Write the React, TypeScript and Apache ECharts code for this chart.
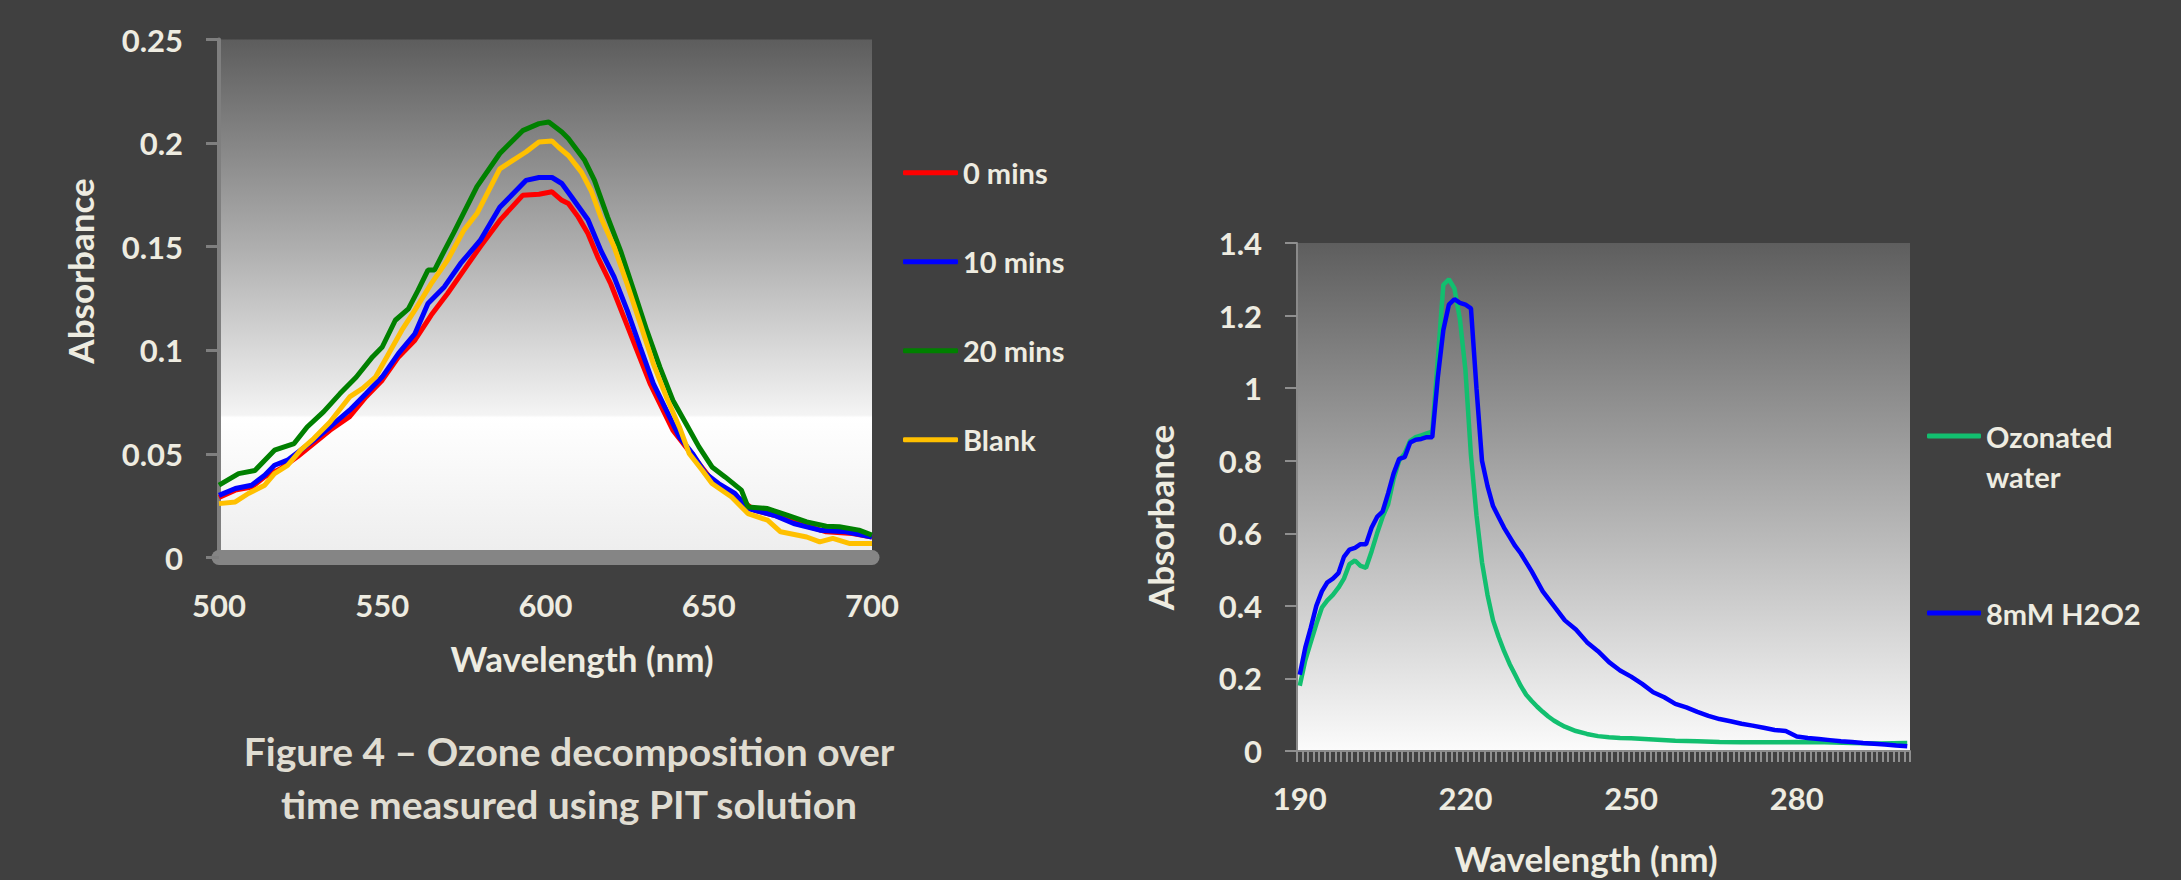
import React, { useEffect, useRef } from "react";
import * as echarts from "echarts";

// ---------- Figure 4 (left): PIT absorbance vs wavelength ----------
const leftNames = ["0 mins", "10 mins", "20 mins", "Blank"];
const leftColors = ["#ff0000", "#0000ff", "#008000", "#ffc000"];
const leftXTicks = { min: 500, max: 700, interval: 50 };
const leftYTicks = { min: 0, max: 0.25, interval: 0.05 };

const mins0: [number, number][] = [
  [500, 0.029], [505, 0.0325], [510, 0.034], [514, 0.039], [519, 0.043], [524, 0.0486],
  [529, 0.055], [534, 0.0614], [540, 0.068], [545, 0.0775], [550, 0.0856], [555, 0.0968],
  [560, 0.1049], [565, 0.117], [570, 0.1274], [575, 0.1387], [580, 0.15], [586, 0.1627],
  [593, 0.1748], [598, 0.1753], [602, 0.1765], [605, 0.1724], [607, 0.1708], [610, 0.1644],
  [613, 0.1564], [616, 0.145], [620, 0.132], [624, 0.116], [628, 0.1], [632, 0.084],
  [636, 0.0711], [639, 0.0614], [643, 0.0534], [647, 0.0454], [651, 0.0373], [655, 0.0325],
  [660, 0.0277], [664, 0.0228], [670, 0.0204], [678, 0.0164], [686, 0.0124], [694, 0.0116],
  [700, 0.0099],
];
const mins10: [number, number][] = [
  [500, 0.03], [505, 0.0333], [510, 0.0349], [514, 0.0397], [517, 0.0445], [521, 0.047],
  [525, 0.0518], [529, 0.0566], [534, 0.063], [540, 0.0711], [545, 0.079], [550, 0.0872],
  [555, 0.0985], [560, 0.108], [564, 0.1226], [569, 0.1306], [574, 0.1419], [580, 0.153],
  [586, 0.169], [594, 0.182], [598, 0.1834], [602, 0.1834], [605, 0.1805], [608, 0.174],
  [613, 0.163], [617, 0.148], [621, 0.1354], [625, 0.1194], [629, 0.1016], [633, 0.084],
  [637, 0.0711], [641, 0.0582], [645, 0.0502], [649, 0.0405], [653, 0.0357], [658, 0.0309],
  [662, 0.0236], [670, 0.0204], [676, 0.0164], [684, 0.0132], [692, 0.0124], [700, 0.0099],
];
const mins20: [number, number][] = [
  [500, 0.0349], [506, 0.0405], [511, 0.042], [517, 0.0518], [523, 0.055], [527, 0.063],
  [532, 0.0703], [537, 0.079], [542, 0.087], [547, 0.0968], [550, 0.1016], [554, 0.1145],
  [558, 0.12], [561, 0.129], [564, 0.1387], [566, 0.1387], [569, 0.148], [572, 0.157],
  [579, 0.179], [586, 0.195], [593, 0.206], [598, 0.2094], [601, 0.2102], [605, 0.2054],
  [607, 0.2022], [612, 0.1917], [615, 0.182], [619, 0.1644], [623, 0.148], [627, 0.129],
  [631, 0.1097], [635, 0.092], [639, 0.0759], [643, 0.0647], [647, 0.0534], [651, 0.0437],
  [655, 0.0389], [660, 0.0325], [662, 0.0244], [668, 0.0236], [674, 0.0204], [680, 0.0172],
  [686, 0.0151], [690, 0.0148], [696, 0.0132], [700, 0.0108],
];
const blank: [number, number][] = [
  [500, 0.026], [505, 0.0268], [509, 0.0309], [514, 0.0349], [517, 0.0405], [521, 0.0445],
  [525, 0.0518], [529, 0.0574], [534, 0.0654], [540, 0.0775], [544, 0.0816], [548, 0.0872],
  [552, 0.0985], [556, 0.1097], [560, 0.1194], [565, 0.1322], [570, 0.1435], [575, 0.158],
  [579, 0.166], [586, 0.1876], [594, 0.1957], [598, 0.2005], [602, 0.201], [604, 0.198],
  [607, 0.194], [611, 0.186], [614, 0.177], [617, 0.164], [621, 0.15], [625, 0.132],
  [629, 0.113], [633, 0.0936], [637, 0.0775], [641, 0.063], [644, 0.0502], [648, 0.0421],
  [651, 0.0357], [657, 0.0292], [662, 0.0212], [668, 0.018], [672, 0.0124], [680, 0.0099],
  [684, 0.0075], [688, 0.0092], [693, 0.0068], [700, 0.0068],
];
const leftData = [mins0, mins10, mins20, blank];

// ---------- Right chart: ozonated water vs H2O2 ----------
const rightNames = ["Ozonated water", "8mM H2O2"];
const rightColors = ["#12bf6f", "#0000ff"];
const rightStart = 190;
const rightEnd = 300;
const rightLabelEvery = 30;
const rightYTicks = { min: 0, max: 1.4, interval: 0.2 };

const ozonated: [number, number][] = [
  [190, 0.18], [191, 0.25], [192, 0.3], [193, 0.35], [194, 0.395], [195, 0.415], [196, 0.43],
  [197, 0.45], [198, 0.475], [199, 0.515], [200, 0.525], [201, 0.51], [202, 0.505], [203, 0.55],
  [204, 0.6], [205, 0.645], [206, 0.68], [207, 0.75], [208, 0.8], [209, 0.82], [210, 0.855],
  [211, 0.865], [212, 0.87], [213, 0.875], [214, 0.88], [215, 1.08], [216, 1.285], [217, 1.3],
  [218, 1.275], [219, 1.19], [220, 1.05], [221, 0.815], [222, 0.65], [223, 0.52], [224, 0.43],
  [225, 0.36], [226, 0.315], [227, 0.275], [228, 0.24], [229, 0.21], [230, 0.18], [231, 0.155],
  [232, 0.138], [233, 0.122], [234, 0.108], [235, 0.095], [236, 0.084], [237, 0.075],
  [238, 0.067], [239, 0.061], [240, 0.055], [242, 0.047], [244, 0.041], [246, 0.038],
  [248, 0.036], [250, 0.035], [254, 0.032], [258, 0.028], [262, 0.027], [266, 0.025],
  [270, 0.024], [275, 0.024], [280, 0.025], [285, 0.024], [290, 0.022], [295, 0.021], [300, 0.022],
];
const h2o2: [number, number][] = [
  [190, 0.21], [191, 0.285], [192, 0.34], [193, 0.4], [194, 0.44], [195, 0.465], [196, 0.475],
  [197, 0.49], [198, 0.535], [199, 0.555], [200, 0.56], [201, 0.57], [202, 0.57], [203, 0.615],
  [204, 0.645], [205, 0.66], [206, 0.71], [207, 0.765], [208, 0.805], [209, 0.81], [210, 0.85],
  [211, 0.858], [212, 0.86], [213, 0.865], [214, 0.865], [215, 1.03], [216, 1.16], [217, 1.23],
  [218, 1.245], [219, 1.235], [220, 1.23], [221, 1.22], [222, 1.0], [223, 0.8], [224, 0.73],
  [225, 0.675], [226, 0.645], [227, 0.615], [228, 0.59], [229, 0.565], [230, 0.545],
  [232, 0.495], [234, 0.44], [236, 0.4], [238, 0.36], [240, 0.335], [242, 0.3], [244, 0.275],
  [246, 0.245], [248, 0.222], [250, 0.205], [252, 0.185], [254, 0.162], [256, 0.148],
  [258, 0.13], [260, 0.12], [262, 0.108], [264, 0.097], [266, 0.088], [268, 0.082], [270, 0.075],
  [272, 0.07], [274, 0.064], [276, 0.058], [278, 0.055], [280, 0.04], [282, 0.036], [284, 0.033],
  [286, 0.03], [288, 0.027], [290, 0.025], [292, 0.022], [294, 0.02], [296, 0.018], [298, 0.015],
  [300, 0.013],
];
const rightData = [ozonated, h2o2];

const captionLines = ["Figure 4 – Ozone decomposition over", "time measured using PIT solution"];
const yTitle = "Absorbance";
const xTitle = "Wavelength (nm)";

const TEXT = "#eeece1";
const FONT = "Lato";

export default function App() {
  const ref = useRef<HTMLDivElement>(null);
  useEffect(() => {
    if (!ref.current) return;
    const chart = echarts.init(ref.current, undefined, { renderer: "svg" });
    const rightCats: string[] = [];
    for (let w = rightStart; w <= rightEnd; w++) rightCats.push(String(w));

    const labelStyle = { color: TEXT, fontSize: 31, fontWeight: "bold", fontFamily: FONT };
    const nameStyle = { color: TEXT, fontSize: 35, fontWeight: "bold", fontFamily: FONT };

    const leftGradient = new echarts.graphic.LinearGradient(0, 0, 0, 1, [
      { offset: 0, color: "#5d5d5d" },
      { offset: 0.4, color: "#aeaeae" },
      { offset: 0.725, color: "#f4f4f4" },
      { offset: 0.73, color: "#ffffff" },
      { offset: 1, color: "#ededed" },
    ]);
    const rightGradient = new echarts.graphic.LinearGradient(0, 0, 0, 1, [
      { offset: 0, color: "#5e5e5e" },
      { offset: 1, color: "#fbfbfb" },
    ]);

    const option: any = {
      animation: false,
      backgroundColor: "#404040",
      textStyle: { fontFamily: FONT, fontWeight: "bold" },
      grid: [
        { left: 219, top: 39.5, width: 653, height: 518, show: true, borderWidth: 0, backgroundColor: leftGradient },
        { left: 1297, top: 243, width: 613, height: 511, show: true, borderWidth: 0, backgroundColor: rightGradient },
      ],
      xAxis: [
        {
          gridIndex: 0, type: "value", ...leftXTicks, offset: 6,
          axisLine: { show: true, lineStyle: { color: "#858585", width: 15 } },
          axisTick: { show: false }, splitLine: { show: false },
          axisLabel: { ...labelStyle, margin: 26 },
          name: xTitle, nameLocation: "middle", nameGap: 77,
          nameTextStyle: { ...nameStyle, padding: [0, 0, 0, 73] },
        },
        {
          gridIndex: 1, type: "category", data: rightCats, boundaryGap: true,
          axisLine: { show: true, lineStyle: { color: "#8a8a8a", width: 2 } },
          axisTick: { show: true, interval: 0, length: 11, lineStyle: { color: "#8f8f8f", width: 2 } },
          axisLabel: { ...labelStyle, interval: rightLabelEvery - 1, margin: 31 },
          splitLine: { show: false },
          name: xTitle, nameLocation: "middle", nameGap: 89,
          nameTextStyle: { ...nameStyle, padding: [0, 35, 0, 0] },
        },
      ],
      yAxis: [
        {
          gridIndex: 0, type: "value", ...leftYTicks,
          axisLine: { show: true, lineStyle: { color: "#7f7f7f", width: 4 } },
          axisTick: { show: true, length: 13, lineStyle: { color: "#7f7f7f", width: 3 } },
          splitLine: { show: false },
          axisLabel: { ...labelStyle, margin: 36 },
          name: yTitle, nameLocation: "middle", nameRotate: 90, nameGap: 122,
          nameTextStyle: { ...nameStyle, padding: [0, 0, 0, 55] },
        },
        {
          gridIndex: 1, type: "value", ...rightYTicks,
          axisLine: { show: true, lineStyle: { color: "#8a8a8a", width: 2 } },
          axisTick: { show: true, length: 12, lineStyle: { color: "#8f8f8f", width: 2 } },
          splitLine: { show: false },
          axisLabel: { ...labelStyle, margin: 35 },
          name: yTitle, nameLocation: "middle", nameRotate: 90, nameGap: 120,
          nameTextStyle: { ...nameStyle, padding: [0, 41, 0, 0] },
        },
      ],
      legend: [
        {
          data: leftNames, orient: "vertical", left: 903, top: 157.7, padding: 0,
          itemWidth: 55, itemHeight: 5, itemGap: 59, icon: "roundRect",
          textStyle: { color: TEXT, fontSize: 29, fontWeight: "bold", fontFamily: FONT, lineHeight: 30 },
        },
        {
          data: [rightNames[0]], orient: "vertical", left: 1927, top: 376, padding: 0,
          itemWidth: 54, itemHeight: 5, icon: "roundRect",
          formatter: () => "\nOzonated\nwater",
          textStyle: { color: TEXT, fontSize: 29, fontWeight: "bold", fontFamily: FONT, lineHeight: 40 },
        },
        {
          data: [rightNames[1]], orient: "vertical", left: 1927, top: 593, padding: 0,
          itemWidth: 54, itemHeight: 5, icon: "roundRect",
          textStyle: { color: TEXT, fontSize: 29, fontWeight: "bold", fontFamily: FONT, lineHeight: 40 },
        },
      ],
      graphic: [
        {
          type: "text", x: 569, y: 724,
          style: {
            text: captionLines.join("\n"), textAlign: "center", textVerticalAlign: "top",
            fill: "#e0ddd2", fontSize: 39, fontWeight: "bold", fontFamily: FONT, lineHeight: 53,
          },
        },
      ],
      series: [
        ...leftNames.map((n, i) => ({
          name: n, type: "line", xAxisIndex: 0, yAxisIndex: 0, data: leftData[i],
          showSymbol: false, symbol: "none", lineStyle: { color: leftColors[i], width: 5 },
          itemStyle: { color: leftColors[i] },
        })),
        ...rightNames.map((n, i) => ({
          name: n, type: "line", xAxisIndex: 1, yAxisIndex: 1,
          data: rightData[i].map(([w, v]) => [String(w), v]),
          showSymbol: false, symbol: "none", lineStyle: { color: rightColors[i], width: 4.5 },
          itemStyle: { color: rightColors[i] },
        })),
      ],
    };
    chart.setOption(option);
    return () => chart.dispose();
  }, []);
  return (
    <div
      ref={ref}
      style={{ position: "absolute", left: 0, top: 0, width: 2181, height: 880, background: "#404040" }}
    />
  );
}
